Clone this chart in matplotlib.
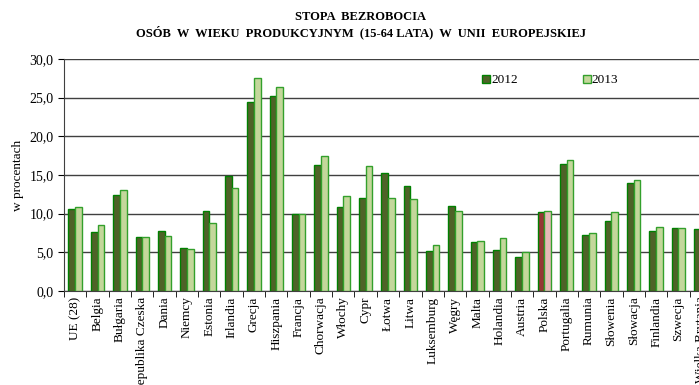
import numpy as np
from matplotlib import pyplot as plt

countries = ["UE (28)", "Belgia", "Bułgaria", "Republika Czeska", "Dania", "Niemcy",
             "Estonia", "Irlandia", "Grecja", "Hiszpania", "Francja", "Chorwacja",
             "Włochy", "Cypr", "Łotwa", "Litwa", "Luksemburg", "Węgry", "Malta",
             "Holandia", "Austria", "Polska", "Portugalia", "Rumunia", "Słowenia",
             "Słowacja", "Finlandia", "Szwecja", "Wielka Brytania"]
rate_2012 = [10.6, 7.6, 12.4, 7.0, 7.7, 5.6, 10.3, 14.9, 24.5, 25.2, 9.9, 16.3,
             10.8, 12.0, 15.3, 13.6, 5.2, 11.0, 6.4, 5.3, 4.4, 10.2, 16.4, 7.3,
             9.0, 14.0, 7.8, 8.1, 8.0]
rate_2013 = [10.9, 8.5, 13.0, 7.0, 7.1, 5.4, 8.8, 13.3, 27.5, 26.4, 9.9, 17.5,
             12.3, 16.1, 12.0, 11.9, 5.9, 10.3, 6.5, 6.8, 5.0, 10.4, 16.9, 7.5,
             10.2, 14.3, 8.3, 8.1, 7.6]

plt.rcParams['font.family'] = ['Liberation Serif', 'DejaVu Serif']

fig = plt.figure(figsize=(6.99, 3.85), dpi=100)
# axes runs past the right edge, like the original (last country clipped)
ax = fig.add_axes([64 / 699, 1 - 291 / 385, 648 / 699, 232 / 385])

x = np.arange(len(countries))
w = 0.3
c12 = ["#4F6228"] * len(countries)
c13 = ["#C4D79B"] * len(countries)
pl = countries.index("Polska")
c12[pl] = "#953735"
c13[pl] = "#E6B9B8"

ax.bar(x - w / 2, rate_2012, w, color=c12, edgecolor="#008000", linewidth=1.0,
       label="2012", zorder=3)
ax.bar(x + w / 2, rate_2013, w, color=c13, edgecolor="#33A02C", linewidth=1.0,
       label="2013", zorder=3)

ax.set_xlim(-0.5, len(countries) - 0.5)
ax.set_ylim(0, 30)
ax.set_yticks(np.arange(0, 31, 5))
ax.set_yticklabels([f"{v:.1f}".replace(".", ",") for v in np.arange(0, 31, 5)],
                   fontsize=10)
ax.yaxis.grid(True, color="#404040", linewidth=1.0, zorder=0)

ax.set_xticks(x)
ax.set_xticklabels(countries, rotation=90, fontsize=9.5)
ax.set_xticks(np.arange(-0.5, len(countries), 1), minor=True)
ax.tick_params(axis="x", which="major", length=0, pad=4)
ax.tick_params(axis="x", which="minor", length=4, direction="out")
ax.tick_params(axis="y", length=4, direction="out")

for s in ["top", "right"]:
    ax.spines[s].set_visible(False)
ax.spines["left"].set_color("#404040")
ax.spines["bottom"].set_color("#404040")

ax.set_ylabel("w procentach", fontsize=9.5)

ax.legend(loc="upper left", bbox_to_anchor=(0.627, 0.985), ncol=2, frameon=False,
          fontsize=9.5, handlelength=0.6, handleheight=0.6, handletextpad=0.1,
          columnspacing=4.9)

fig.text(0.516, 0.956, "STOPA  BEZROBOCIA", ha="center", va="center",
         fontsize=9, fontweight="bold")
fig.text(0.516, 0.917, "OSÓB  W  WIEKU  PRODUKCYJNYM  (15-64 LATA)  W  UNII  EUROPEJSKIEJ",
         ha="center", va="center", fontsize=9, fontweight="bold")

fig.savefig("out.png", dpi=100)
